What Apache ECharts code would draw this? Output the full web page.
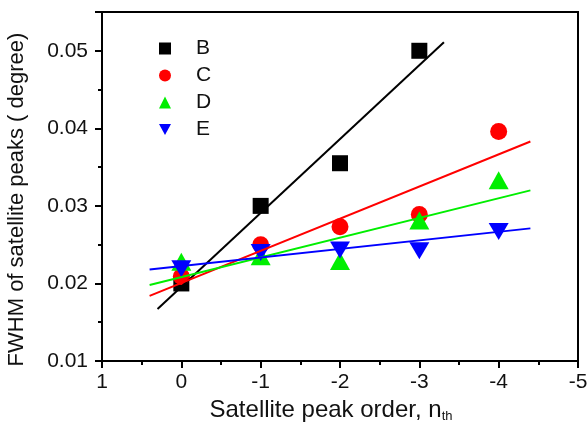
<!DOCTYPE html>
<html>
<head>
<meta charset="utf-8">
<script src="https://cdn.jsdelivr.net/npm/echarts@6/dist/echarts.min.js"></script>
<style>
html,body{margin:0;padding:0;background:#fff;}
#chart{width:588px;height:425px;}
</style>
</head>
<body>
<div id="chart"></div>
<script>
// Satellite peak order (x) and FWHM values (y)
var ordersB = [0, -1, -2, -3];
var valuesB = [0.0200, 0.0300, 0.0355, 0.0500];
var orders = [0, -1, -2, -3, -4];
var valuesC = [0.0209, 0.0250, 0.0273, 0.0289, 0.0396];
var valuesD = [0.0228, 0.0235, 0.0229, 0.0281, 0.0333];
var valuesE = [0.0219, 0.0240, 0.0243, 0.0242, 0.0267];

// Linear-fit line end points
var fitXB = [0.3, -3.31];
var fitYB = [0.0167, 0.0511];
var fitX = [0.4, -4.4];
var fitYC = [0.0184, 0.0383];
var fitYD = [0.0198, 0.0320];
var fitYE = [0.0218, 0.0271];

var seriesNames = ['B', 'C', 'D', 'E'];
var xTicks = [1, 0, -1, -2, -3, -4, -5];
var yTicks = [0.01, 0.02, 0.03, 0.04, 0.05];

function pairs(xs, ys) { return xs.map(function (x, i) { return [x, ys[i]]; }); }

var FONT = 'Liberation Sans, Arial, sans-serif';
var TXT = '#111';

var chart = echarts.init(document.getElementById('chart'), null, { renderer: 'canvas' });

var axisCommon = {
  axisLine: { show: true, onZero: false, lineStyle: { color: '#000', width: 2 } },
  axisTick: { show: true, inside: false, length: 7, lineStyle: { color: '#000', width: 2 } },
  minorTick: { show: true, splitNumber: 2, length: 4, lineStyle: { color: '#000', width: 2 } },
  splitLine: { show: false },
  minorSplitLine: { show: false }
};

chart.setOption({
  animation: false,
  backgroundColor: '#fff',
  textStyle: { fontFamily: FONT },
  grid: { left: 102, right: 10, top: 12, bottom: 64, containLabel: false, outerBoundsMode: 'none', show: true, borderColor: '#000', borderWidth: 2, backgroundColor: 'transparent' },
  legend: {
    data: [
      { name: seriesNames[0] },
      { name: seriesNames[1] },
      { name: seriesNames[2] },
      { name: seriesNames[3], icon: 'path://M0,0 L10,0 L5,9 Z' }
    ],
    orient: 'vertical',
    left: 154,
    top: 33,
    itemWidth: 12,
    itemHeight: 12,
    itemGap: 6,
    textStyle: { fontSize: 21, color: TXT, fontFamily: FONT, padding: [0, 0, 0, 20] }
  },
  xAxis: Object.assign({
    type: 'value',
    inverse: true,
    min: -5,
    max: 1,
    interval: 1,
    name: '{a|Satellite peak order, n}{s|th}',
    nameLocation: 'middle',
    nameGap: 34,
    nameTextStyle: {
      padding: [0, 18, 0, 0],
      rich: {
        a: { fontSize: 24, color: TXT, fontFamily: FONT },
        s: { fontSize: 13, color: TXT, fontFamily: FONT, padding: [14, 0, 0, 0] }
      }
    },
    axisLabel: {
      fontSize: 21, color: TXT, fontFamily: FONT, margin: 11,
      formatter: function (v) { return xTicks.indexOf(v) >= 0 ? String(v) : ''; }
    }
  }, axisCommon),
  yAxis: Object.assign({
    type: 'value',
    min: 0.01,
    max: 0.055,
    interval: 0.01,
    name: 'FWHM of satellite peaks ( degree)',
    nameLocation: 'middle',
    nameRotate: 90,
    nameGap: 74,
    nameTextStyle: { fontSize: 22, color: TXT, fontFamily: FONT, padding: [0, 26, 0, 0] },
    axisLabel: {
      fontSize: 21, color: TXT, fontFamily: FONT, margin: 14,
      formatter: function (v) {
        for (var i = 0; i < yTicks.length; i++) { if (Math.abs(v - yTicks[i]) < 1e-9) return yTicks[i].toFixed(2); }
        return '';
      }
    }
  }, axisCommon),
  series: [
    { name: 'B', type: 'scatter', data: pairs(ordersB, valuesB), symbol: 'rect', symbolSize: 16, itemStyle: { color: '#000', opacity: 1 }, z: 2 },
    { name: 'C', type: 'scatter', data: pairs(orders, valuesC), symbol: 'circle', symbolSize: 17, itemStyle: { color: '#ff0000', opacity: 1 }, z: 2 },
    { name: 'D', type: 'scatter', data: pairs(orders, valuesD), symbol: 'triangle', symbolSize: [20, 18], itemStyle: { color: '#00ee00', opacity: 1 }, z: 2 },
    { name: 'E', type: 'scatter', data: pairs(orders, valuesE), symbol: 'triangle', symbolRotate: 180, symbolSize: [20, 17], itemStyle: { color: '#0000ff', opacity: 1 }, z: 2 },
    { name: 'fitB', type: 'line', data: pairs(fitXB, fitYB), showSymbol: false, symbol: 'none', lineStyle: { color: '#000', width: 2 }, z: 3 },
    { name: 'fitC', type: 'line', data: pairs(fitX, fitYC), showSymbol: false, symbol: 'none', lineStyle: { color: '#ff0000', width: 2 }, z: 3 },
    { name: 'fitD', type: 'line', data: pairs(fitX, fitYD), showSymbol: false, symbol: 'none', lineStyle: { color: '#00ee00', width: 2 }, z: 3 },
    { name: 'fitE', type: 'line', data: pairs(fitX, fitYE), showSymbol: false, symbol: 'none', lineStyle: { color: '#0000ff', width: 2 }, z: 3 }
  ]
});
</script>
</body>
</html>
